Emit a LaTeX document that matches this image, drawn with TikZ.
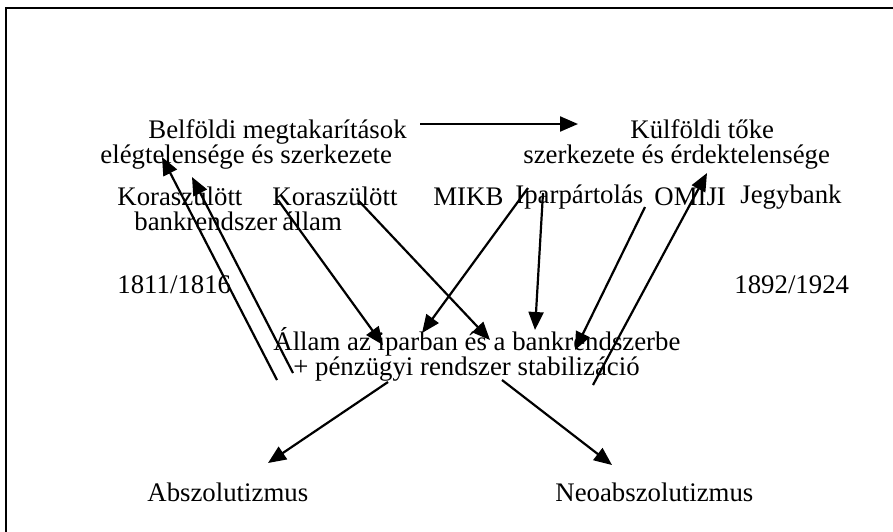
\documentclass[tikz,border=0pt]{standalone}
\usepackage{fontspec}
\setmainfont{Liberation Serif}
\usetikzlibrary{arrows.meta}

\tikzset{
    lbl/.style={anchor=west, inner sep=0pt, align=left, font=\fontsize{13.4}{12.5}\selectfont},
    arr/.style={line width=1.1pt, -{Triangle[length=9pt,width=7.5pt]}},
    ln/.style={line width=1.1pt}
}

\begin{document}
\begin{tikzpicture}[x=0.5pt, y=-0.5pt]
    \useasboundingbox (0,0) rectangle (893,531);
    \clip (0,0) rectangle (893,531);
    \draw[line width=1.2pt] (6,8) rectangle (910,560);

    \node[lbl] (belf) at (100,144) {\hspace*{24pt}Belföldi megtakarítások\\elégtelensége és szerkezete};
    \node[lbl] (kulf) at (523,144) {\hspace*{53.5pt}Külföldi tőke\\szerkezete és érdektelensége};

    \node[lbl] (kora1) at (117,209) {Koraszülött\\\hspace*{8.5pt}bankrendszer};
    \node[lbl] (kora2) at (272,209) {Koraszülött\\\hspace*{5pt}állam};
    \node[lbl] (mikb) at (433,197) {MIKB};
    \node[lbl] (ipar) at (515,197) {Iparpártolás};
    \node[lbl] (omiji) at (654,197) {OMIJI};
    \node[lbl] (jegy) at (740,197) {Jegybank};

    \node[lbl] (ev1) at (117,285) {1811/1816};
    \node[lbl] (ev2) at (734,285) {1892/1924};

    \node[lbl] (allam) at (273,354) {Állam az iparban és a bankrendszerbe\\\hspace*{10pt}+ pénzügyi rendszer stabilizáció};

    \node[lbl] (absz) at (147,492) {Abszolutizmus};
    \node[lbl] (neo) at (555,492) {Neoabszolutizmus};

    \draw[arr] ([shift={(320,-20)}]belf.west) -- ([shift={(55,-20)}]kulf.west);

    \draw[arr] ([shift={(4,26)}]allam.west) -- ([shift={(62,13)}]belf.west);
    \draw[arr] ([shift={(20,19)}]allam.west) -- ([shift={(92,33)}]belf.west);

    \draw[arr] ([shift={(6,-9)}]kora2.west) -- ([shift={(110,-9)}]allam.west);
    \draw[arr] ([shift={(86,-9)}]kora2.west) -- ([shift={(217,-14)}]allam.west);
    \draw[arr] ([shift={(13,-9)}]ipar.west) -- ([shift={(149,-21)}]allam.west);
    \draw[arr] ([shift={(28,-4)}]ipar.west) -- ([shift={(262,-24)}]allam.west);
    \draw[arr] ([shift={(-9,10)}]omiji.west) -- ([shift={(302,-4)}]allam.west);
    \draw[arr] ([shift={(320,31)}]allam.west) -- ([shift={(184,29)}]kulf.west);

    \draw[arr] ([shift={(115,28)}]allam.west) -- ([shift={(121,-29)}]absz.west);
    \draw[arr] ([shift={(229,26)}]allam.west) -- ([shift={(57,-27)}]neo.west);
\end{tikzpicture}
\end{document}
